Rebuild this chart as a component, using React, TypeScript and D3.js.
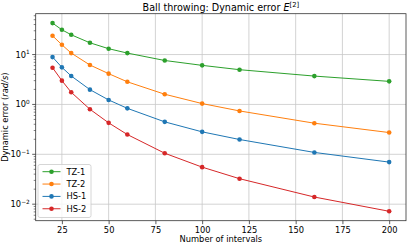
// Ball throwing: dynamic error vs number of intervals, log y axis
import * as d3 from "d3";
import { useEffect, useRef } from "react";

const intervals = [20, 25, 30, 40, 50, 60, 80, 100, 120, 160, 200];
const tz1 = [42.7, 31.4, 24.9, 17.2, 13.1, 10.7, 7.6, 6.07, 4.97, 3.7, 2.9];
const tz2 = [23.8, 15.7, 10.7, 6.17, 4.14, 2.84, 1.6, 1.04, 0.74, 0.42, 0.273];
const hs1 = [8.9, 5.54, 3.72, 1.98, 1.23, 0.835, 0.447, 0.282, 0.198, 0.109, 0.0697];
const hs2 = [5.45, 3.0, 1.75, 0.8, 0.427, 0.249, 0.105, 0.0553, 0.0324, 0.0139, 0.0072];
const seriesNames = ["TZ-1", "TZ-2", "HS-1", "HS-2"];
const seriesColors = ["#2ca02c", "#ff7f0e", "#1f77b4", "#d62728"];
const xTicks = [25, 50, 75, 100, 125, 150, 175, 200];
const yExponents = [-2, -1, 0, 1];

export default function App() {
  const svgRef = useRef<SVGSVGElement>(null);

  useEffect(() => {
    const root = d3.select(svgRef.current);
    root.selectAll("*").remove();
    const font = "DejaVu Sans, sans-serif";

    const left = 35.7;
    const right = 406;
    const top = 13.7;
    const bottom = 220.7;

    const allSeries = [tz1, tz2, hs1, hs2];
    const allVals = allSeries.flat();
    const lo = Math.log10(d3.min(allVals)!);
    const hi = Math.log10(d3.max(allVals)!);
    const pad = (hi - lo) * 0.05;
    const xPad = (d3.max(intervals)! - d3.min(intervals)!) * 0.05;

    const x = d3
      .scaleLinear()
      .domain([d3.min(intervals)! - xPad, d3.max(intervals)! + xPad])
      .range([left, right]);
    const y = d3
      .scaleLog()
      .domain([Math.pow(10, lo - pad), Math.pow(10, hi + pad)])
      .range([bottom, top]);

    const svg = root.append("g");

    // grid
    svg
      .append("g")
      .selectAll("line")
      .data(xTicks)
      .enter()
      .append("line")
      .attr("x1", (d) => x(d))
      .attr("x2", (d) => x(d))
      .attr("y1", top)
      .attr("y2", bottom)
      .attr("stroke", "#c8c8c8")
      .attr("stroke-width", 0.8);
    svg
      .append("g")
      .selectAll("line")
      .data(yExponents)
      .enter()
      .append("line")
      .attr("x1", left)
      .attr("x2", right)
      .attr("y1", (d) => y(Math.pow(10, d)))
      .attr("y2", (d) => y(Math.pow(10, d)))
      .attr("stroke", "#c8c8c8")
      .attr("stroke-width", 0.8);

    // lines + markers
    const line = d3
      .line<number>()
      .x((d, i) => x(intervals[i]))
      .y((d) => y(d))
      .curve(d3.curveLinear);
    allSeries.forEach((vals, k) => {
      svg
        .append("path")
        .attr("d", line(vals))
        .attr("fill", "none")
        .attr("stroke", seriesColors[k])
        .attr("stroke-width", 1);
      svg
        .append("g")
        .selectAll("circle")
        .data(vals)
        .enter()
        .append("circle")
        .attr("cx", (d, i) => x(intervals[i]))
        .attr("cy", (d) => y(d))
        .attr("r", 2.3)
        .attr("fill", seriesColors[k]);
    });

    // frame
    svg
      .append("rect")
      .attr("x", left)
      .attr("y", top)
      .attr("width", right - left)
      .attr("height", bottom - top)
      .attr("fill", "none")
      .attr("stroke", "#333")
      .attr("stroke-width", 0.8);

    // x axis
    const xAxis = svg
      .append("g")
      .attr("transform", "translate(0," + bottom + ")")
      .call(d3.axisBottom(x).tickValues(xTicks).tickSize(3.5).tickPadding(2.5));
    xAxis.select(".domain").remove();
    xAxis.selectAll("line").attr("stroke", "#333").attr("stroke-width", 0.8);
    xAxis
      .selectAll("text")
      .style("font-family", font)
      .style("font-size", "8.3px")
      .attr("fill", "#000");

    // y axis major ticks with superscript labels
    const yg = svg.append("g");
    yExponents.forEach((e) => {
      const yy = y(Math.pow(10, e));
      yg.append("line")
        .attr("x1", left - 3.5)
        .attr("x2", left)
        .attr("y1", yy)
        .attr("y2", yy)
        .attr("stroke", "#333")
        .attr("stroke-width", 0.8);
      const t = yg
        .append("text")
        .attr("x", left - 6)
        .attr("y", yy + 3)
        .attr("text-anchor", "end")
        .style("font-family", font)
        .style("font-size", "8.3px");
      t.append("tspan").text("10");
      t.append("tspan")
        .attr("dy", -3.5)
        .style("font-size", "5.8px")
        .text(e < 0 ? "\u2212" + Math.abs(e) : String(e));
    });
    // minor ticks
    const [d0, d1] = y.domain();
    const minors: number[] = [];
    for (let e = Math.floor(Math.log10(d0)); e <= Math.ceil(Math.log10(d1)); e++) {
      for (let m = 2; m <= 9; m++) {
        const v = m * Math.pow(10, e);
        if (v >= d0 && v <= d1) minors.push(v);
      }
    }
    yg.selectAll(".minor")
      .data(minors)
      .enter()
      .append("line")
      .attr("x1", left - 2)
      .attr("x2", left)
      .attr("y1", (d) => y(d))
      .attr("y2", (d) => y(d))
      .attr("stroke", "#333")
      .attr("stroke-width", 0.6);

    // title
    const title = svg
      .append("text")
      .attr("x", (left + right) / 2)
      .attr("y", 10.5)
      .attr("text-anchor", "middle")
      .style("font-family", font)
      .style("font-size", "9.6px");
    title.append("tspan").text("Ball throwing: Dynamic error ");
    title.append("tspan").style("font-style", "italic").text("E");
    title.append("tspan").attr("dy", -3.5).style("font-size", "6.8px").text("[2]");

    // x label
    svg
      .append("text")
      .attr("x", (left + right) / 2)
      .attr("y", 242)
      .attr("text-anchor", "middle")
      .style("font-family", font)
      .style("font-size", "8.3px")
      .text("Number of intervals");

    // y label
    const yl = svg
      .append("text")
      .attr("transform", "translate(8," + (top + bottom) / 2 + ") rotate(-90)")
      .attr("text-anchor", "middle")
      .style("font-family", font)
      .style("font-size", "8.3px");
    yl.append("tspan").text("Dynamic error (");
    yl.append("tspan").style("font-style", "italic").text("rad/s");
    yl.append("tspan").text(")");

    // legend
    const lg = svg.append("g");
    lg.append("rect")
      .attr("x", 38)
      .attr("y", 164.5)
      .attr("width", 53)
      .attr("height", 53)
      .attr("rx", 2)
      .attr("fill", "rgba(255,255,255,0.8)")
      .attr("stroke", "#cccccc")
      .attr("stroke-width", 0.8);
    seriesNames.forEach((name, k) => {
      const yy = 171.7 + k * 12.35;
      lg.append("line")
        .attr("x1", 42.5)
        .attr("x2", 60.5)
        .attr("y1", yy)
        .attr("y2", yy)
        .attr("stroke", seriesColors[k])
        .attr("stroke-width", 1);
      lg.append("circle")
        .attr("cx", 51.5)
        .attr("cy", yy)
        .attr("r", 2.3)
        .attr("fill", seriesColors[k]);
      lg.append("text")
        .attr("x", 66.5)
        .attr("y", yy + 3)
        .style("font-family", font)
        .style("font-size", "8.3px")
        .text(name);
    });
  }, []);

  return (
    <div style={{ position: "fixed", left: 0, top: 0 }}>
      <svg ref={svgRef} width={407} height={244} style={{ display: "block", background: "#fff" }} />
    </div>
  );
}
